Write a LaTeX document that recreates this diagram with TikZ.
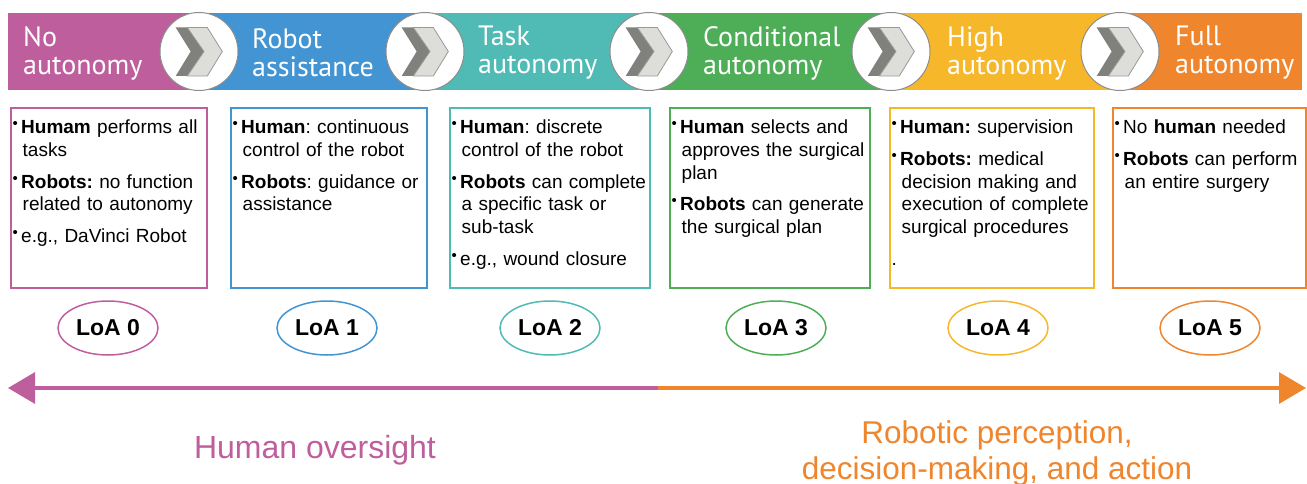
\documentclass[tikz,border=0pt]{standalone}
\usepackage{fontspec}
\setmainfont{Liberation Sans}
\newfontfamily\stagefont{PT Sans}
\usetikzlibrary{shapes.geometric,arrows.meta,positioning}

\definecolor{loamag}{RGB}{191,94,157}
\definecolor{loablue}{RGB}{66,148,210}
\definecolor{loateal}{RGB}{80,186,180}
\definecolor{loagreen}{RGB}{78,173,87}
\definecolor{loayel}{RGB}{247,183,42}
\definecolor{loaor}{RGB}{239,133,45}
\definecolor{chevdark}{RGB}{128,128,124}
\definecolor{chevlight}{RGB}{221,221,218}

% bullet with a hanging indent
\newcommand\lvlitem[1]{\par\hangindent=10pt\hangafter=1\noindent
  \makebox[8.5pt][l]{\raisebox{5pt}{\fontsize{15}{15}\selectfont\textbullet}}#1\par\vspace{9pt}}

\tikzset{
  stagelabel/.style={text=white,font=\stagefont\fontsize{28}{28}\selectfont,align=left,anchor=west,inner sep=0},
  knob/.style={circle,draw=gray!90,line width=1pt,fill=white,minimum size=78pt,inner sep=0},
  lvlbox/.style={draw=#1,line width=2pt,anchor=north west,minimum height=180pt,inner sep=0},
  lvltext/.style={anchor=north west,inner sep=0,text width=200pt,font=\frenchspacing\fontsize{19}{22.7}\selectfont},
  loa/.style={ellipse,draw=#1,line width=1.5pt,minimum width=100pt,minimum height=54pt,
    font=\bfseries\fontsize{23}{23}\selectfont},
  scale line/.style={line width=3.3pt,-{Triangle[length=27pt,width=31pt]}},
  chevron/.pic={
    \fill[chevdark] (-23.3,-24) -- (-11.7,-24) -- (5,0) -- (-11.7,24.5) -- (-23.3,24.5) -- (-8.3,0) -- cycle;
    \filldraw[fill=chevlight,draw=gray!80,line width=0.8pt]
      (-11.7,-24) -- (8.3,-24) -- (23.3,0) -- (8.3,24.5) -- (-11.7,24.5) -- (5,0) -- cycle;
  }
}

\begin{document}
\begin{tikzpicture}[x=1pt,y=-1pt]
\useasboundingbox (0,0) rectangle (1307,484);

% -- header band
\fill[loamag] (8,13) rectangle (199,90);
\fill[loablue] (199,13) rectangle (425,90);
\fill[loateal] (425,13) rectangle (649,90);
\fill[loagreen] (649,13) rectangle (891,90);
\fill[loayel] (891,13) rectangle (1120,90);
\fill[loaor] (1120,13) rectangle (1302,90);

\node[knob] (k1) at (199,51.5) {};
\node[knob] (k2) at (425,51.5) {};
\node[knob] (k3) at (649,51.5) {};
\node[knob] (k4) at (891,51.5) {};
\node[knob] (k5) at (1120,51.5) {};
\pic at (k1) {chevron};
\pic at (k2) {chevron};
\pic at (k3) {chevron};
\pic at (k4) {chevron};
\pic at (k5) {chevron};

\node[stagelabel] (s0) at (23,53) {No\\autonomy};
\node[stagelabel] (s1) at (252,53) {Robot\\assistance};
\node[stagelabel] (s2) at (478,53) {Task\\autonomy};
\node[stagelabel] (s3) at (703,53) {Conditional\\autonomy};
\node[stagelabel] (s4) at (947,53) {High\\autonomy};
\node[stagelabel] (s5) at (1175,53) {Full\\autonomy};

% -- level boxes
\node[lvlbox=loamag,minimum width=196pt] (b0) at (10,107) {};
\node[lvlbox=loablue,minimum width=196pt] (b1) at (230,107) {};
\node[lvlbox=loateal,minimum width=200pt] (b2) at (449,107) {};
\node[lvlbox=loagreen,minimum width=200pt] (b3) at (669,107) {};
\node[lvlbox=loayel,minimum width=204pt] (b4) at (889,107) {};
\node[lvlbox=loaor,minimum width=193pt] (b5) at (1112,107) {};

\node[lvltext] (t0) at ([xshift=2.5pt,yshift=-4pt]b0.north west) {%
  \lvlitem{\textbf{Humam} performs all\newline tasks}
  \lvlitem{\textbf{Robots:} no function\newline related to autonomy}
  \lvlitem{e.g., DaVinci Robot}};
\node[lvltext] (t1) at ([xshift=2.5pt,yshift=-4pt]b1.north west) {%
  \lvlitem{\textbf{Human}: continuous\newline control of the robot}
  \lvlitem{\textbf{Robots}: guidance or\newline assistance}};
\node[lvltext] (t2) at ([xshift=2.5pt,yshift=-4pt]b2.north west) {%
  \lvlitem{\textbf{Human}: discrete\newline control of the robot}
  \lvlitem{\textbf{Robots} can complete\newline a specific task or\newline sub-task}
  \lvlitem{e.g., wound closure}};
\node[lvltext] (t3) at ([xshift=2.5pt,yshift=-4pt]b3.north west) {%
  \lvlitem{\textbf{Human} selects and\newline approves the surgical\newline plan}
  \lvlitem{\textbf{Robots} can generate\newline the surgical plan}};
\node[lvltext] (t4) at ([xshift=2.5pt,yshift=-4pt]b4.north west) {%
  \lvlitem{\textbf{Human:} supervision}
  \lvlitem{\textbf{Robots:} medical\newline decision making and\newline execution of complete\newline surgical procedures}
  \noindent.};
\node[lvltext] (t5) at ([xshift=2.5pt,yshift=-4pt]b5.north west) {%
  \lvlitem{No \textbf{human} needed}
  \lvlitem{\textbf{Robots} can perform\newline an entire surgery}};

% -- levels of autonomy
\node[loa=loamag] (l0) at (108,328) {LoA 0};
\node[loa=loablue] (l1) at (327,328) {LoA 1};
\node[loa=loateal] (l2) at (550,328) {LoA 2};
\node[loa=loagreen] (l3) at (776,328) {LoA 3};
\node[loa=loayel] (l4) at (998,328) {LoA 4};
\node[loa=loaor] (l5) at (1210,328) {LoA 5};

% -- draw arrows
\coordinate (mid) at (658,388);
\coordinate (west end) at (8,388);
\coordinate (east end) at (1306,388);
\draw[scale line,loamag] (mid) -- (west end);
\draw[scale line,loaor] (mid) -- (east end);

\node[text=loamag,font=\fontsize{32}{36}\selectfont] (oversight) at (315,450) {Human oversight};
\node[text=loaor,font=\fontsize{31.5}{36}\selectfont,align=center] (action) at (997,453)
  {Robotic perception,\\decision-making, and action};
\end{tikzpicture}
\end{document}
